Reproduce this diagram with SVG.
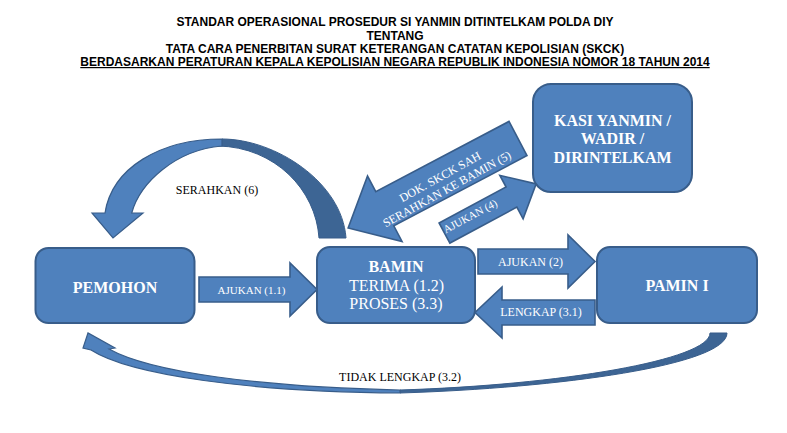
<svg xmlns="http://www.w3.org/2000/svg" width="787" height="433" viewBox="0 0 787 433">
<style>
.box{fill:#4F81BD;stroke:#385D8A;stroke-width:2}
.arr{fill:#4F81BD;stroke:#385D8A;stroke-width:1.6;stroke-linejoin:miter}
.dark{fill:#3D6594;stroke:#385D8A;stroke-width:1}
.light{fill:#4F81BD;stroke:#385D8A;stroke-width:1.2}
.title{font-family:"Liberation Sans",Arial,sans-serif;font-weight:bold;font-size:12px;fill:#000;text-anchor:middle}
.nb{font-family:"Liberation Serif","Times New Roman",serif;font-weight:bold;font-size:16px;fill:#fff;text-anchor:middle}
.nr{font-family:"Liberation Serif","Times New Roman",serif;font-size:16px;fill:#fff;text-anchor:middle}
.al{font-family:"Liberation Serif","Times New Roman",serif;font-size:12px;fill:#fff;text-anchor:middle}
.bl{font-family:"Liberation Serif","Times New Roman",serif;font-size:12px;fill:#000;text-anchor:middle}
</style>
<rect width="787" height="433" fill="#fff"/>
<g id="title">
<text class="title" x="395" y="26">STANDAR OPERASIONAL PROSEDUR SI YANMIN DITINTELKAM POLDA DIY</text>
<text class="title" x="395" y="39.5">TENTANG</text>
<text class="title" x="395" y="53">TATA CARA PENERBITAN SURAT KETERANGAN CATATAN KEPOLISIAN (SKCK)</text>
<text class="title" x="395" y="66" text-decoration="underline">BERDASARKAN PERATURAN KEPALA KEPOLISIAN NEGARA REPUBLIK INDONESIA NOMOR 18 TAHUN 2014</text>
</g>
<g id="connectors">
<g id="serahkan6">
<path class="dark" d="M222,139 C275,139 342,182 346,238 L319,238 C316,190 275,147 218,146 Z"/>
<path class="light" d="M222,139 C160,139 112,168 105,213 L92,213 L113,238 L143,213 L131.7,213 C140,183 175,150 222,146 Z"/>
<text class="bl" x="217" y="194">SERAHKAN (6)</text>
</g>
<g id="tidaklengkap">
<path class="dark" d="M727,333 C727,365 560,388 400,393 L400,390 C560,385 710,360 710,333 Z"/>
<path class="light" d="M400,393 C250,392 130,375 91,350 L83,348 L88,333 L115,348 L109,349 C150,372 260,387 400,390 Z"/>
<text class="bl" x="400" y="381">TIDAK LENGKAP (3.2)</text>
</g>
<g id="ajukan11">
<polygon class="arr" points="199,277 290,277 290,263 317,289.5 290,316 290,302 199,302"/>
<text class="al" x="251.5" y="293.5" style="font-size:11px">AJUKAN (1.1)</text>
</g>
<g id="ajukan2">
<polygon class="arr" points="478,249 568,249 568,235 595,261.5 568,288 568,274 478,274"/>
<text class="al" x="530.5" y="266">AJUKAN (2)</text>
</g>
<g id="lengkap31">
<polygon class="arr" points="595,300 502,300 502,287 475,312.5 502,338 502,325 595,325"/>
<text class="al" x="541" y="316">LENGKAP (3.1)</text>
</g>
<g id="dokskck5">
<polygon class="arr" transform="translate(518,138.5) rotate(152.2)" points="0,-19.3 150.6,-19.3 150.6,-37 192,0 150.6,37 150.6,19.3 0,19.3"/>
<g transform="translate(443.5,183) rotate(-29)">
<text class="al" x="0" y="-3">DOK. SKCK SAH</text>
<text class="al" x="0" y="11">SERAHKAN KE BAMIN (5)</text>
</g>
</g>
<g id="ajukan4">
<polygon class="arr" transform="translate(444.5,233) rotate(-28.2)" points="0,-11.4 76,-11.4 76,-24.6 104,0 76,24.6 76,11.4 0,11.4"/>
<text class="al" transform="translate(470,216) rotate(-28.2)" x="0" y="4" style="font-size:11px">AJUKAN (4)</text>
</g>
</g>
<g id="pemohon">
<rect class="box" x="35.5" y="248" width="159" height="75" rx="13"/>
<text class="nb" x="115" y="293">PEMOHON</text>
</g>
<g id="bamin">
<rect class="box" x="317" y="247" width="158" height="76" rx="13"/>
<text class="nb" x="396" y="272">BAMIN</text>
<text class="nr" x="396.5" y="290.5">TERIMA (1.2)</text>
<text class="nr" x="396" y="309">PROSES (3.3)</text>
</g>
<g id="pamin">
<rect class="box" x="597" y="247" width="160" height="76" rx="13"/>
<text class="nb" x="677" y="290.5">PAMIN I</text>
</g>
<g id="kasi">
<rect class="box" x="533" y="84" width="159" height="108" rx="18"/>
<text class="nb" x="612.5" y="125.5">KASI YANMIN /</text>
<text class="nb" x="612.5" y="144">WADIR /</text>
<text class="nb" x="612.5" y="162.5">DIRINTELKAM</text>
</g>
</svg>
